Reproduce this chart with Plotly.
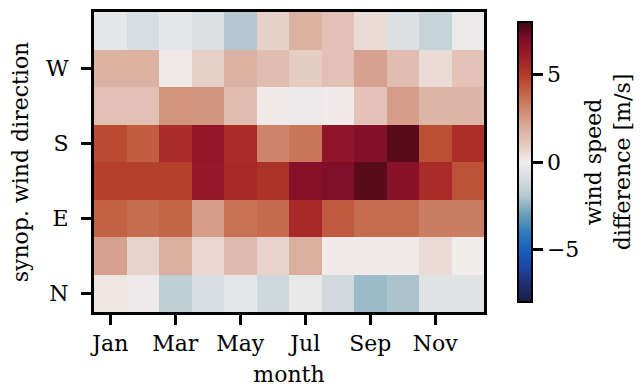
import plotly.graph_objects as go

# Monthly mean wind speed difference per synoptic wind direction [m/s]
months = ["Jan", "Feb", "Mar", "Apr", "May", "Jun",
          "Jul", "Aug", "Sep", "Oct", "Nov", "Dec"]
directions = ["N", "NE", "E", "SE", "S", "SW", "W", "NW"]

diff_N = [0.2, -0.2, -1.6, -0.9, -0.4, -1.2, -0.3, -1.1, -2.3, -2.1, -0.6, -0.6]
diff_NE = [2.3, 0.7, 1.9, 0.6, 1.5, 0.7, 1.9, 0.05, 0.05, 0.05, 0.5, -0.05]
diff_E = [4.0, 3.7, 3.9, 2.4, 3.6, 3.8, 5.6, 4.2, 3.7, 3.7, 3.3, 3.3]
diff_SE = [4.9, 4.9, 4.9, 6.3, 5.6, 5.3, 6.8, 7.0, 7.6, 6.8, 5.5, 4.4]
diff_S = [4.6, 4.1, 5.5, 6.4, 5.5, 3.1, 3.5, 6.5, 6.9, 7.6, 4.5, 5.4]
diff_SW = [1.3, 1.3, 2.7, 2.6, 1.4, 0.1, -0.2, 0.05, 1.2, 2.4, 1.7, 1.7]
diff_W = [1.8, 1.8, 0.1, 0.8, 1.8, 1.4, 0.9, 1.3, 2.3, 1.4, 0.5, 1.2]
diff_NW = [-0.4, -0.9, -0.4, -0.7, -2.0, 0.8, 1.8, 1.3, 0.5, -0.7, -1.4, -0.2]

z = [diff_N, diff_NE, diff_E, diff_SE, diff_S, diff_SW, diff_W, diff_NW]

x_ticks = ["Jan", "Mar", "May", "Jul", "Sep", "Nov"]
y_ticks = ["N", "E", "S", "W"]

# diverging blue-white-red scale (balance style), from -8 to 8 m/s
balance = [
    [0.0000, "rgb(24,28,67)"],
    [0.0625, "rgb(32,45,112)"],
    [0.1250, "rgb(30,70,165)"],
    [0.1875, "rgb(22,96,190)"],
    [0.2500, "rgb(50,125,185)"],
    [0.3125, "rgb(105,158,182)"],
    [0.3750, "rgb(178,199,207)"],
    [0.4375, "rgb(212,219,223)"],
    [0.5000, "rgb(241,237,236)"],
    [0.5625, "rgb(229,201,191)"],
    [0.6250, "rgb(218,172,156)"],
    [0.6875, "rgb(207,136,111)"],
    [0.7500, "rgb(194,98,68)"],
    [0.8125, "rgb(180,60,40)"],
    [0.8750, "rgb(158,28,40)"],
    [0.9375, "rgb(128,14,40)"],
    [1.0000, "rgb(60,9,18)"],
]

font = dict(family="DejaVu Serif", size=22, color="black")

fig = go.Figure(go.Heatmap(
    x=months, y=directions, z=z,
    colorscale=balance, zmin=-8, zmax=8,
    xgap=0, ygap=0,
    colorbar=dict(
        x=1.0615, xanchor="left", xref="paper",
        y=0.5, yanchor="middle", len=1.0, lenmode="fraction",
        thickness=14, outlinewidth=2, outlinecolor="black",
        tickvals=[-5, 0, 5], ticktext=["\u22125", "0", "5"],
        tickprefix="\u2002",
        ticks="outside", ticklen=10, tickwidth=3, tickcolor="black",
        tickfont=font,
        title=dict(text="wind speed<br>difference [m/s]", side="right", font=font),
    ),
))

axis_common = dict(
    showline=True, linewidth=3, linecolor="black", mirror=True,
    ticks="outside", ticklen=10, tickwidth=3, tickcolor="black",
    showgrid=False, zeroline=False, tickfont=font,
)

fig.update_xaxes(
    type="category", categoryorder="array", categoryarray=months,
    tickvals=x_ticks, ticktext=x_ticks, ticklabelstandoff=0,
    title=dict(text="month", font=font, standoff=12),
    **axis_common,
)
fig.update_yaxes(
    type="category", categoryorder="array", categoryarray=directions,
    tickvals=y_ticks, ticktext=y_ticks, ticklabelstandoff=8,
    title=dict(text="synop. wind direction", font=font, standoff=12),
    **axis_common,
)

fig.update_layout(
    width=644, height=392,
    margin=dict(l=94, r=160, t=12, b=80, autoexpand=False),
    paper_bgcolor="white", plot_bgcolor="white",
    font=font,
)

fig.write_html("out.html")
